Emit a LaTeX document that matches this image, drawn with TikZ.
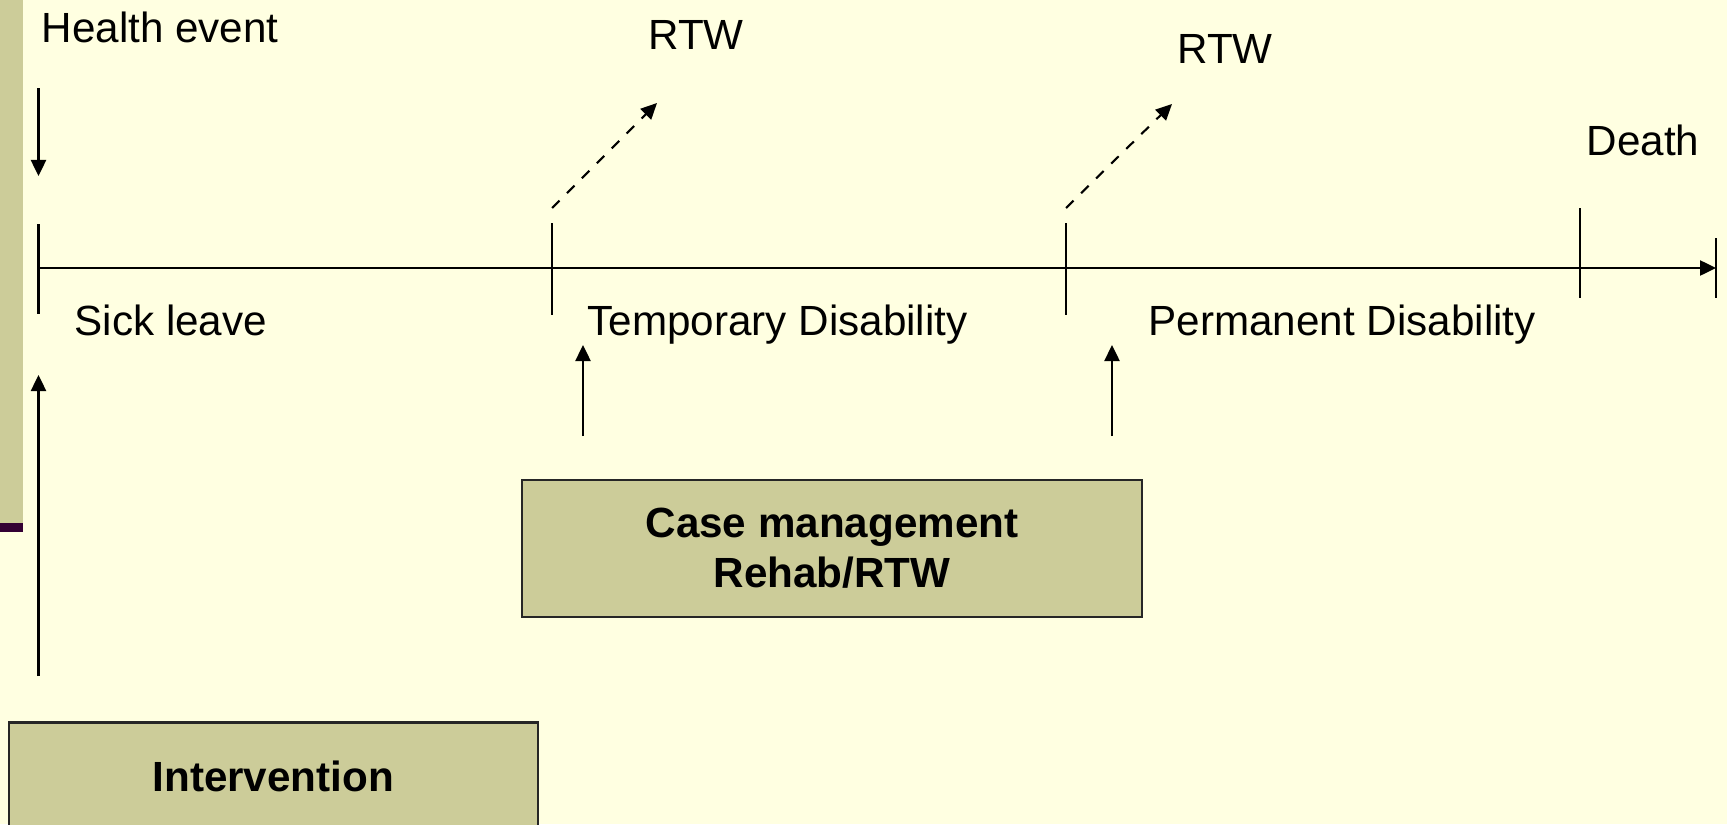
\documentclass[tikz,border=0pt]{standalone}
\usepackage{fontspec}
\setmainfont{Liberation Sans}
\usetikzlibrary{arrows.meta}
\definecolor{paper}{HTML}{FFFFE1}
\definecolor{olive}{HTML}{CCCC99}
\definecolor{plum}{HTML}{330033}
\tikzset{
  >={Triangle[length=1.6mm,width=1.5mm]},
  lbl/.style     ={font=\fontsize{12}{14}\selectfont,inner sep=0pt,anchor=base west},
  stagebox/.style={draw=black!85,fill=olive,line width=0.6pt,align=center,
                   font=\fontsize{12}{14.2}\selectfont\bfseries,inner sep=0pt},
  flow/.style    ={->,line width=0.7pt},
  exit/.style    ={->,dashed,line width=0.6pt},
  tickline/.style={line width=0.7pt},
}

\begin{document}
\begin{tikzpicture}[x=0.01cm,y=-0.01cm]
\clip (0,0) rectangle (1727,824);
\fill[paper] (0,0) rectangle (1727,824);
%======================= side bar ===============================
\fill[olive] (0,0) rectangle (22.7,523);
\fill[plum] (0,523) rectangle (22.7,532);
%======================= time line ==============================
\coordinate (t0) at (38.5,268);
\coordinate (tend) at (1716,268);
\foreach \x/\a/\b in {38.5/224/314,552/223/315,1066/223/315,1580/208/298,1716/238/298}
  \draw[tickline] (\x,\a) -- (\x,\b);
\draw[flow] (t0) -- (tend);
% stages along the line
\node[lbl] (sick) at (74,335) {Sick leave};
\node[lbl] (temp) at (587,335) {Temporary Disability};
\node[lbl] (perm) at (1148,335) {Permanent Disability};
%======================= events above ===========================
\node[lbl] (health) at (41,42.5) {Health event};
\coordinate (h0) at (38.5,88);
\coordinate (h1) at (38.5,176);
\draw[flow] (h0) -- (h1);
\node[lbl,anchor=base] (rtw1) at (696,50) {RTW};
\node[lbl,anchor=base] (rtw2) at (1225,63.5) {RTW};
\coordinate (r1a) at (552,208);
\coordinate (r1b) at (657,103);
\coordinate (r2a) at (1066,208);
\coordinate (r2b) at (1172,104);
\draw[exit] (r1a) -- (r1b);
\draw[exit] (r2a) -- (r2b);
\node[lbl] (death) at (1586,155) {Death};
%======================= actions below ==========================
\node[stagebox,minimum width=6.2cm,minimum height=1.37cm] (cm) at (832,548.5)
 {Case management\\Rehab/RTW};
\node[stagebox,minimum width=5.285cm,minimum height=1.08cm] (iv) at (273.25,776.5)
 {Intervention};
\coordinate (c1a) at (583,436);
\coordinate (c1b) at (583,345);
\coordinate (c2a) at (1112,436);
\coordinate (c2b) at (1112,345);
\draw[flow] (c1a) -- (c1b);
\draw[flow] (c2a) -- (c2b);
\coordinate (i0) at (38.5,676);
\coordinate (i1) at (38.5,375);
\draw[flow] (i0) -- (i1);
\end{tikzpicture}
\end{document}
